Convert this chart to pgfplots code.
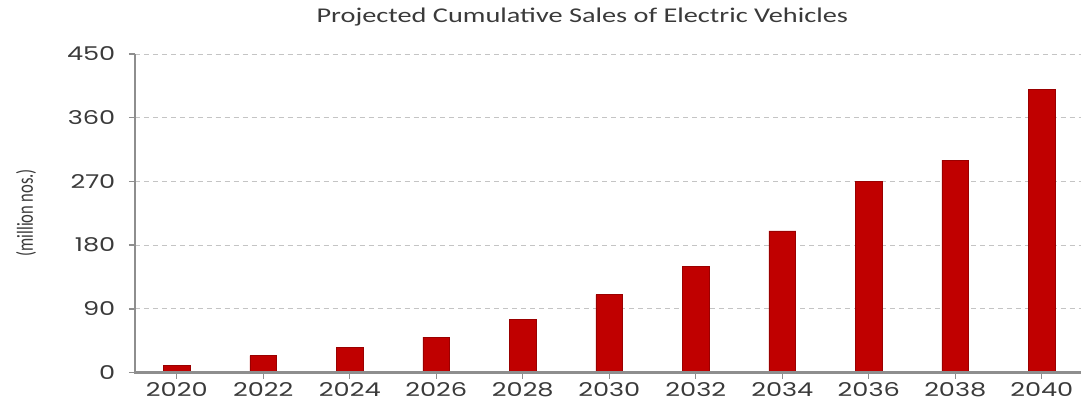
\documentclass[border=0pt]{standalone}
\usepackage{pgfplots}
\pgfplotsset{compat=1.18}
\usepackage{fontspec}
\setmainfont{Carlito}
\newfontfamily\tickfont[FakeStretch=1.35]{Poppins}
\newfontfamily\titlefont[FakeStretch=1.35]{Carlito}
\newfontfamily\labelfont[FakeStretch=0.72]{Carlito}
\definecolor{barred}{HTML}{C00000}
\definecolor{axgray}{HTML}{8E8E8E}
\definecolor{gridgray}{HTML}{C4C4C4}
\definecolor{txt}{HTML}{3A3A3A}
\begin{document}
\begin{tikzpicture}
\begin{axis}[
  at={(0pt,0pt)}, anchor=south west,
  scale only axis, width=947pt, height=319pt,
  xmin=-0.485, xmax=10.45, ymin=0, ymax=450,
  ytick={0,90,180,270,360,450},
  xtick={0,1,2,3,4,5,6,7,8,9,10},
  xticklabels={2020,2022,2024,2026,2028,2030,2032,2034,2036,2038,2040},
  /pgf/number format/assume math mode=true,
  axis line style={draw=none},
  xtick pos=lower, ytick pos=left,
  ymajorgrids, grid style={gridgray, dash pattern=on 5pt off 4pt, line width=0.8pt},
  major tick style={draw=axgray, line width=1.4pt},
  tick align=outside, major tick length=6pt,
  yticklabel style={font=\tickfont\fontsize{19}{19}\selectfont, text=txt, anchor=east, xshift=-10pt},
  xticklabel style={font=\tickfont\fontsize{19}{19}\selectfont, text=txt, anchor=north, yshift=0pt},
  ybar, bar width=27pt,
  clip=false,
]
\addplot[fill=barred, draw=barred!80!black, line width=0.6pt] coordinates {
 (0,10) (1,24) (2,35) (3,50) (4,75) (5,110) (6,150) (7,200) (8,270) (9,300) (10,400)};
\draw[axgray, line width=2.6pt] (rel axis cs:0,1) -- (rel axis cs:0,0) -- (rel axis cs:1,0);
\end{axis}
\node[font=\titlefont\fontsize{21}{21}\selectfont, text=txt] at (448pt,356pt) {Projected Cumulative Sales of Electric Vehicles};
\node[font=\labelfont\fontsize{23}{23}\selectfont, text=txt, rotate=90] at (-109pt,160pt) {(million nos.)};
\path[use as bounding box] (-135pt,-32pt) rectangle (947pt,373pt);
\end{tikzpicture}
\end{document}
